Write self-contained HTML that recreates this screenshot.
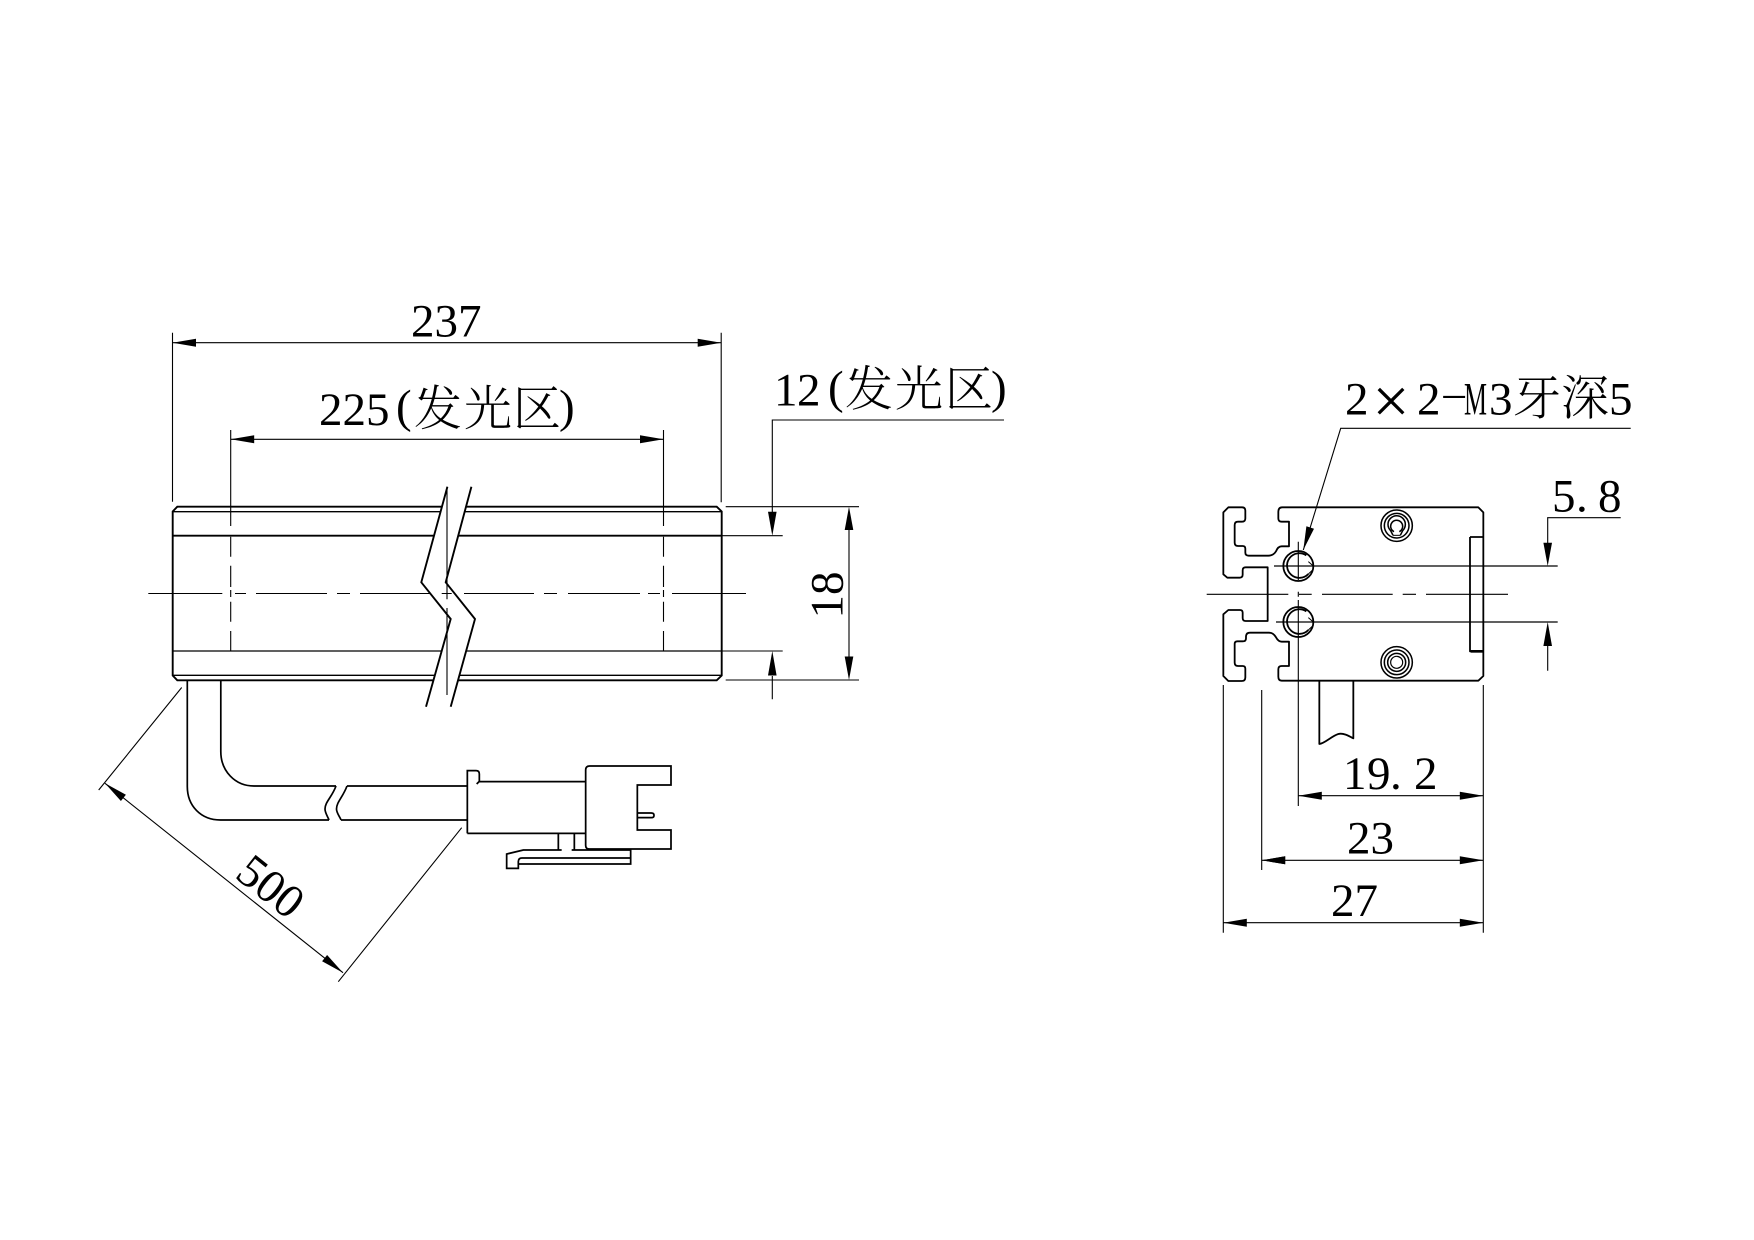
<!DOCTYPE html>
<html><head><meta charset="utf-8"><style>
html,body{margin:0;padding:0;background:#fff}
svg{display:block}
text{font-family:"Liberation Serif","Noto Serif CJK SC",serif;font-size:47px;fill:#000}
.c{font-family:"Noto Serif CJK SC","Liberation Serif",serif;font-size:48px;font-weight:300}
</style></head><body>
<svg width="1754" height="1240" viewBox="0 0 1754 1240" xmlns="http://www.w3.org/2000/svg">
<rect width="1754" height="1240" fill="#fff"/>

<!-- LEFT VIEW: body -->
<g fill="none" stroke="#000" stroke-width="1.1">
<path d="M172.5 332.7V501.7M721.2 332.7V502.3M230.7 430V526M230.7 536.7V556.7M230.7 565.7V587M230.7 590V597M230.7 601.7V621.7M230.7 631V651M663.5 430V526M663.5 536.7V556.7M663.5 565.7V587M663.5 590V597M663.5 601.7V621.7M663.5 631V651"/>
<path d="M172.5 342.7H721.2M230.7 439.3H663.5"/>
<path d="M148.3 593.5H222.3M235 593.5H246M256 593.5H327M337 593.5H350M360 593.5H432M441 593.5H452M464 593.5H534M544 593.5H557M568 593.5H640M648 593.5H660M672 593.5H746"/>
<path d="M725.7 506.7H859M721 535.7H782.7M721 651H782.7M725.7 680H859"/>
<path d="M1004 420H772.3V512M772.3 676V699.3M849 530V657"/>
</g>
<g fill="none" stroke="#000" stroke-width="1.9">
<path d="M177.3 506.7H716.7L721.7 511.5V675.5L716.7 680.3H177.3L172.7 675.5V511.5Z"/>
<path d="M172.7 535.7H721.7"/>
</g>
<g fill="none" stroke="#000" stroke-width="1.3">
<path d="M173 511.7H721.5M173 651H721.5M173 675.3H721.5"/>
</g>
<!-- break mask -->
<polygon points="447.4,486.7 421.3,582.3 450.7,619 426,706.7 450.7,706.7 475,619 445.7,582.3 471.4,486.7" fill="#fff"/>
<g fill="none" stroke="#000" stroke-width="1.9">
<path d="M447.4 486.7L421.3 582.3L450.7 619L426 706.7"/>
<path d="M471.4 486.7L445.7 582.3L475 619L450.7 706.7"/>
</g>
<path d="M447 486.7V599.3M447 608V695M441.7 593.5H451.7" fill="none" stroke="#000" stroke-width="1.1"/>

<!-- arrowheads left -->
<g fill="#000">
<polygon points="172.5,342.7 196,338.7 196,346.7"/>
<polygon points="721.2,342.7 697.7,338.7 697.7,346.7"/>
<polygon points="230.7,439.3 254.2,435.3 254.2,443.3"/>
<polygon points="663.5,439.3 640,435.3 640,443.3"/>
<polygon points="772.3,535.7 768,511.7 776.6,511.7"/>
<polygon points="772.3,651 768,675.5 776.6,675.5"/>
<polygon points="849,506.7 844.7,530 853.3,530"/>
<polygon points="849,680 844.7,656.5 853.3,656.5"/>
<polygon points="105,783.3 120.9,801 125.9,794.8"/>
<polygon points="343,972.7 322.1,961.2 327.1,955"/>
</g>

<!-- cable -->
<g fill="none" stroke="#000" stroke-width="1.7">
<path d="M187.3 681V786.5C187.3 806 201 820 220.5 820H329"/>
<path d="M220.8 681V751.5C220.8 771 235 786 254 786H336"/>
<path d="M336 786C332 797 325 802 325 809C325 813 328 817 329 820"/>
<path d="M347 786C343 797 336.500 802 336.500 809C336.500 813 340 817 341 820"/>
<path d="M347 786H467.5M341 820H467.5"/>
<path d="M178 680.3H200" stroke-width="1.5"/>
</g>
<path d="M181.7 687.5L98.7 790M461.7 827.7L338.3 981.7M105 783.3L343 972.7" fill="none" stroke="#000" stroke-width="1.1"/>

<!-- connector -->
<g transform="translate(440 740) scale(.33333)" fill="none" stroke="#000" stroke-width="5.2">
<path d="M82 280V92H108Q118 92 118 102V124L110 132"/>
<path d="M118 125H435"/>
<path d="M82 280H435"/>
<path d="M437 90Q437 78 449 78H693V135H592V270H693V327H448Q437 327 437 316Z"/>
<path d="M592 219H634Q642 219 642 226Q642 233 634 233H592"/>
<path d="M355 280V330H365M403 280V330H395M395 330H437M355 330H250L200 342V385H235V365Q235 354 246 354H572M437 330H572V372H235"/>
</g>

<!-- RIGHT VIEW -->
<g transform="translate(1200 480) scale(.33333)" fill="none" stroke="#000" stroke-width="5.4" stroke-linejoin="round">
<path d="M235 95Q235 82 247 82H835L850 97V588L835 602H245Q235 602 235 590V568Q235 558 245 558H267V485H245Q235 485 228 472Q220 458 207 458H150Q138 458 138 470V475Q138 484 128 484H112Q104 484 104 492V548Q104 558 114 558H128Q136 558 136 566V592Q136 603 125 603H85L70 588V403L85 390H120Q128 390 128 398V414Q128 423 137 423H203V262H137Q128 262 128 271V284Q128 293 119 293H82L70 283V97L85 82H126Q136 82 136 92V115Q136 125 126 125H114Q104 125 104 135V188Q104 198 114 198H128Q136 198 136 206V218Q136 227 146 227H205Q220 227 228 214Q234 199 245 199H267V125H245Q235 125 235 115Z"/>
<path d="M810 171H850M810 171V514H850"/>
<path d="M812 514H850" stroke-width="8"/>
<circle cx="295" cy="258" r="45"/>
<path d="M319 226A37 37 0 1 0 325 282"/>
<path d="M325 245L340 258M325 282L340 268" stroke-width="3"/>
<circle cx="295" cy="426" r="45"/>
<path d="M319 394A37 37 0 1 0 325 450"/>
<path d="M325 413L340 426M325 450L340 436" stroke-width="3"/>
<g stroke-width="4.6">
<circle cx="590" cy="137" r="47"/>
<circle cx="590" cy="137" r="37"/>
<path d="M579 166L572 152A26 26 0 1 1 608 152L601 166"/>
<path d="M579 166H601" stroke-width="3"/>
<path d="M582 155A18 18 0 1 1 598 155"/>
<circle cx="590" cy="547" r="47"/>
<circle cx="590" cy="547" r="37"/>
<circle cx="590" cy="547" r="27"/>
<path d="M572 547A18 18 0 1 1 608 547A18 18 0 0 1 572 547" stroke-width="3.6"/>
</g>
<path d="M358 602V792C375 790 395 768 415 762C430 758 447 768 460 775V602"/>
</g>

<g fill="none" stroke="#000" stroke-width="1.1">
<path d="M1206.7 594.3H1288.3M1299 594.3H1311.7M1322 594.3H1392.7M1402.7 594.3H1416M1426 594.3H1508"/>
<path d="M1298.3 541.7V580M1298.3 591.7V596.7M1298.3 600V806"/>
<path d="M1274 566H1557.7M1276 622H1557.7" stroke-width="1.3"/>
<path d="M1223.3 685V932.7M1261.7 690V870M1483.3 685V932.7"/>
<path d="M1298.3 795.7H1483.3M1261.7 860.3H1483.3M1223.3 922.7H1483.3"/>
<path d="M1303.3 550L1340.7 428.3H1630.7"/>
<path d="M1620.7 517.7H1547.7V543M1547.7 646V670.7"/>
</g>
<g fill="#000">
<polygon points="1303.3,550 1306.4,526.3 1314,528.7"/>
<polygon points="1547.7,566 1543.4,542.7 1552,542.7"/>
<polygon points="1547.7,622 1543.4,646 1552,646"/>
<polygon points="1298.3,795.7 1321.8,791.7 1321.8,799.7"/>
<polygon points="1483.3,795.7 1459.8,791.7 1459.8,799.7"/>
<polygon points="1261.7,860.3 1285.2,856.3 1285.2,864.3"/>
<polygon points="1483.3,860.3 1459.8,856.3 1459.8,864.3"/>
<polygon points="1261.7,860.3 1285.2,856.3 1285.2,864.3"/>
<polygon points="1223.3,922.7 1246.8,918.7 1246.8,926.7"/>
<polygon points="1483.3,922.7 1459.8,918.7 1459.8,926.7"/>
</g>

<!-- TEXT -->
<text x="411 434.5 458" y="336.7">237</text>
<text x="319 342.5 366" y="425">225</text>
<text x="396" y="422">(</text>
<text class="c" x="414 464 513" y="425">发光区</text>
<text x="559" y="422">)</text>
<text x="774 797" y="405.7">12</text>
<text x="828" y="403">(</text>
<text class="c" x="845 895 945" y="405.7">发光区</text>
<text x="991" y="403">)</text>
<text transform="translate(842.3 595) rotate(-90)" text-anchor="middle">18</text>
<text transform="translate(271 886) rotate(38.5)" y="16" text-anchor="middle">500</text>

<text x="1345" y="414.3">2</text>
<text x="1372.4" y="423" style="font-size:66px">×</text>
<text x="1417" y="414.3">2</text>
<text transform="translate(1440 403.5) scale(1.8 .6)">-</text>
<text transform="translate(1464 414.3) scale(.55 1)">M</text>
<text x="1489" y="414.3">3</text>
<text class="c" x="1513 1561" y="414.3">牙深</text>
<text x="1609" y="414.3">5</text>

<text x="1552 1576 1598" y="511.7">5.8</text>
<text x="1343 1367 1390 1414" y="789">19.2</text>
<text x="1347 1370.5" y="853.3">23</text>
<text x="1331 1354.5" y="916">27</text>
</svg>
</body></html>
